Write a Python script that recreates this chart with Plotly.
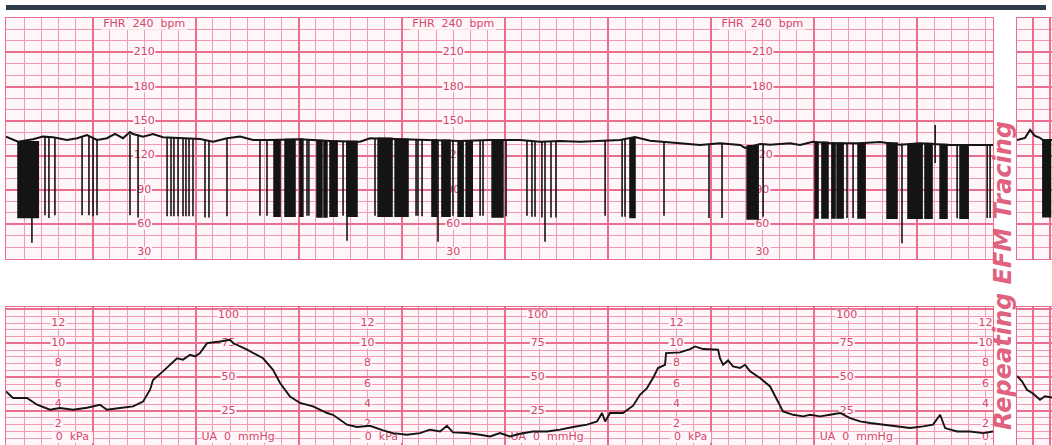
import plotly.graph_objects as go

# ---------------- data ----------------
# time axis in seconds from the left edge of the strip; grid: 10 s minor, 60 s major
fhr_t = [0.0, 4.1, 7.0, 15.7, 21.5, 27.4, 35.5, 41.4, 47.2, 53.0, 58.8, 63.5, 68.1, 72.2,
         74.0, 79.8, 85.6, 91.4, 101.3, 113.0, 120.6, 128.7, 136.3, 143.9, 153.8, 171.2,
         188.7, 206.2, 212.0, 229.5, 246.9, 264.4, 281.9, 299.4, 311.0, 322.7, 334.3, 346.0,
         357.6, 366.3, 375.1, 392.5, 404.2, 415.8, 427.5, 430.4, 439.2, 444.9, 456.6, 462.4,
         470.0, 479.9, 497.4, 509.0, 520.7, 532.3, 549.8, 561.4, 574.8]
fhr_bpm = [136.5, 133.6, 132.1, 134.2, 136.5, 135.9, 133.6, 135.1, 137.9, 133.6, 135.1, 138.8,
           135.1, 140.5, 138.8, 136.5, 138.8, 135.9, 135.1, 134.5, 132.1, 135.1, 136.5, 133.6,
           133.6, 134.2, 132.7, 132.1, 135.1, 134.2, 133.6, 132.7, 133.6, 133.6, 132.1, 132.7,
           132.1, 132.7, 133.6, 136.2, 133.0, 130.7, 129.2, 130.7, 129.2, 126.6, 130.1, 129.5,
           130.7, 129.2, 132.1, 130.7, 130.7, 131.8, 129.5, 130.7, 129.2, 129.2, 129.2]

# signal-loss drop-outs: start, end (s), lowest bpm, bpm where the drop leaves the trace
drop_start = [7.0, 15.1, 22.7, 25.0, 28.5, 44.3, 48.3, 50.7, 53.0, 72.2, 76.9, 93.8, 96.1,
              97.8, 100.2, 103.1, 104.8, 106.6, 108.9, 115.9, 118.2, 128.7, 147.9, 152.0,
              156.1, 162.5, 171.2, 175.3, 176.4, 181.1, 185.2, 188.7, 196.3, 198.6, 198.6,
              214.9, 216.7, 226.6, 238.8, 239.9, 242.3, 248.1, 251.6, 253.9, 260.3, 263.3,
              268.0, 276.1, 277.8, 283.1, 291.2, 303.4, 306.3, 308.1, 312.1, 313.9, 317.4,
              320.3, 348.9, 358.8, 360.5, 363.4, 383.2, 409.4, 417.0, 431.6, 440.9, 471.2,
              475.2, 481.0, 484.0, 489.8, 493.3, 496.2, 513.1, 521.8, 525.3, 535.2, 541.1,
              544.0, 553.9, 555.6, 571.4, 573.1]
drop_end = [18.8, 15.1, 22.7, 25.0, 28.5, 44.3, 48.3, 50.7, 53.0, 72.2, 76.9, 93.8, 96.1,
            97.8, 100.2, 103.1, 104.8, 106.6, 108.9, 115.9, 118.2, 128.7, 147.9, 152.0,
            159.6, 168.3, 172.9, 175.3, 176.4, 184.0, 186.9, 192.8, 196.3, 204.4, 198.6,
            214.9, 224.8, 234.1, 238.8, 239.9, 242.3, 251.0, 251.6, 258.6, 260.3, 266.2,
            271.5, 276.1, 277.8, 289.4, 291.2, 303.4, 306.3, 308.1, 312.1, 313.9, 317.4,
            320.3, 348.9, 358.8, 360.5, 366.3, 383.2, 409.4, 417.0, 438.0, 440.9, 472.9,
            478.7, 482.8, 487.5, 489.8, 493.3, 500.3, 518.9, 521.8, 533.5, 539.3, 541.1,
            548.0, 553.9, 560.3, 571.4, 573.1]
drop_low = [66.0, 44.0, 68.0, 65.5, 68.0, 68.0, 68.0, 67.0, 68.0, 68.0, 66.0, 67.0, 67.0,
            67.0, 67.0, 67.0, 67.0, 67.0, 67.0, 66.0, 66.0, 67.0, 67.5, 67.5,
            67.0, 67.0, 67.0, 67.5, 67.5, 66.5, 66.5, 67.0, 67.5, 67.0, 45.7,
            67.5, 67.0, 67.0, 67.5, 67.5, 67.0, 67.0, 44.8, 67.0, 67.5, 67.0,
            67.0, 67.5, 67.5, 66.5, 67.0, 67.5, 66.5, 66.5, 66.0, 44.8, 66.0,
            66.0, 67.5, 66.5, 66.5, 66.0, 67.5, 65.5, 65.5, 64.7, 66.5, 65.5,
            65.5, 65.5, 65.5, 65.5, 65.5, 65.5, 65.3, 43.4, 65.3, 65.3, 113.5,
            65.3, 65.3, 65.3, 65.5, 65.5]
drop_top = [132.0, 132.0, 136.5, 136.3, 136.0, 136.0, 137.0, 136.0, 134.0, 138.5, 138.5, 135.5,
            135.5, 135.5, 135.3, 135.2, 135.0, 134.9, 134.7, 134.5, 133.5, 135.0, 133.6, 133.6,
            133.8, 134.0, 134.2, 133.6, 133.5, 133.0, 132.8, 132.7, 132.5, 132.3, 132.3,
            134.5, 135.0, 134.2, 133.8, 133.8, 133.7, 133.6, 133.4, 133.2, 133.0, 132.8,
            132.8, 133.2, 133.4, 133.6, 133.6, 133.4, 133.0, 132.5, 132.1, 132.2, 132.5,
            132.7, 132.7, 133.6, 134.5, 135.5, 131.5, 129.5, 130.5, 128.5, 130.0, 131.2,
            131.5, 131.0, 130.7, 130.7, 130.7, 130.7, 131.0, 130.5, 129.8, 130.5, 146.7,
            129.5, 129.2, 129.2, 129.2, 129.2]

# uterine activity (mmHg)
ua_t = [0.0, 4.1, 12.2, 18.1, 25.6, 31.4, 39.0, 47.2, 54.7, 58.8, 66.4, 74.0, 79.8, 83.9,
        85.6, 91.4, 99.6, 103.1, 107.2, 110.1, 113.0, 117.1, 124.6, 130.5, 132.2, 140.4,
        149.7, 155.5, 159.6, 165.4, 171.2, 178.8, 187.0, 190.4, 198.6, 204.4, 212.0, 219.6,
        225.4, 233.5, 241.1, 246.9, 252.8, 256.8, 260.3, 268.5, 276.1, 281.9, 287.7, 293.5,
        299.4, 306.9, 315.1, 322.7, 330.2, 338.4, 344.2, 347.1, 348.9, 351.8, 359.3, 365.2,
        369.2, 373.3, 376.8, 379.7, 383.8, 384.4, 392.5, 398.4, 401.3, 405.9, 414.7, 415.8,
        417.6, 420.5, 423.4, 427.5, 430.4, 433.3, 439.1, 445.0, 449.0, 452.5, 458.4, 464.2,
        468.3, 474.1, 479.9, 485.7, 491.6, 497.4, 503.2, 510.8, 518.9, 526.5, 534.1, 539.9,
        544.0, 546.9, 553.9, 561.4, 569.0, 574.8]
ua_mmhg = [39.5, 34.7, 34.7, 29.7, 26.0, 27.3, 26.0, 27.5, 29.7, 26.0, 27.3, 28.5, 32.0, 40.8,
           48.0, 54.3, 64.0, 63.0, 66.6, 65.3, 67.8, 75.2, 76.4, 77.7, 75.2, 70.3,
           64.0, 55.5, 45.7, 35.8, 31.0, 28.5, 23.6, 22.3, 15.0, 13.3, 14.2, 10.8,
           8.8, 7.6, 8.8, 11.3, 10.0, 14.2, 9.3, 8.8, 7.6, 6.3, 8.8, 6.3,
           8.3, 10.0, 10.0, 11.3, 13.3, 15.0, 17.4, 23.6, 17.4, 23.6, 23.6, 29.0,
           37.0, 42.0, 49.4, 56.8, 59.2, 67.8, 68.3, 70.8, 72.7, 70.8, 70.3, 64.0,
           59.2, 62.4, 58.0, 56.8, 59.2, 54.3, 49.4, 43.2, 33.4, 24.8, 22.3, 21.1,
           22.3, 21.1, 22.3, 23.6, 19.9, 17.4, 16.2, 15.0, 13.7, 12.5, 13.7, 15.0,
           22.3, 12.5, 10.0, 10.0, 8.8, 10.0]

# start of the repeated strip (right edge)
rep_fhr_t = [0.0, 4.7, 7.6, 10.5, 13.4, 15.1, 20.4]
rep_fhr_bpm = [133.6, 135.4, 142.3, 137.1, 135.4, 133.6, 133.6]
rep_drop_start = [15.1]
rep_drop_end = [19.5]
rep_drop_low = [66.6]
rep_drop_top = [133.6]
rep_ua_t = [0.0, 2.9, 5.8, 9.3, 13.4, 16.3, 20.4]
rep_ua_mmhg = [51.0, 47.0, 40.8, 38.0, 33.4, 36.0, 35.0]

# printed scale labels
fhr_ticks = [240, 210, 180, 150, 120, 90, 60, 30]
kpa_ticks = [12, 10, 8, 6, 4, 2]
mmhg_ticks = [100, 75, 50, 25]
fhr_label_cols = [80.5, 260.5, 440.5]
kpa_label_cols = [30.5, 210.5, 390.5, 570.5]
mmhg_label_cols = [130.5, 310.5, 490.5]

# ---------------- styling ----------------
W, H = 1052, 445
BG = "#fef6f8"
GRID_MAJ = "#ea6f8f"
GRID_MIN = "#f29bb0"
LBL = "#d5456c"
TRACE = "#141414"
FONT = "DejaVu Sans"

X_MAIN = [6 / W, 993 / W]
X_REP = [1017 / W, 1.0]
Y_TOP = [1 - 258.7 / H, 1 - 18 / H]
Y_BOT = [0.0, 1 - 307.3 / H]
T_RANGE = [0, 574.8]
T_REP = [0, 20.4]
FHR_RANGE = [30, 240]
UA_RANGE = [0, 101.6]

px_per_s = (X_MAIN[1] - X_MAIN[0]) * W / (T_RANGE[1] - T_RANGE[0])
px_per_bpm = (Y_TOP[1] - Y_TOP[0]) * H / (FHR_RANGE[1] - FHR_RANGE[0])
px_per_mmhg = (Y_BOT[1] - Y_BOT[0]) * H / (UA_RANGE[1] - UA_RANGE[0])


def xaxis(domain, rng, anchor, major0, dmajor, minor0):
    return dict(domain=domain, range=rng, anchor=anchor, showticklabels=False, ticks="",
                zeroline=False, showgrid=True, gridcolor=GRID_MAJ, gridwidth=1.6,
                tickmode="linear", tick0=major0, dtick=dmajor,
                minor=dict(showgrid=True, gridcolor=GRID_MIN, gridwidth=1,
                           tick0=minor0, dtick=10),
                showline=True, mirror=True, linecolor=GRID_MAJ, linewidth=1.3,
                fixedrange=True)


def yaxis(domain, rng, anchor, dmajor, dminor):
    return dict(domain=domain, range=rng, anchor=anchor, showticklabels=False, ticks="",
                zeroline=False, showgrid=True, gridcolor=GRID_MAJ, gridwidth=1.6,
                tickmode="linear", tick0=rng[0], dtick=dmajor,
                minor=dict(showgrid=True, gridcolor=GRID_MIN, gridwidth=1,
                           tick0=rng[0], dtick=dminor),
                showline=True, mirror=True, linecolor=GRID_MAJ, linewidth=1.3,
                fixedrange=True)


def inset(v, rng, pad):
    return min(max(v, rng[0] + pad), rng[1] - pad)


def rect_path(cxs, cys, ws, hs):
    xs, ys = [], []
    for cx, cy, w, h in zip(cxs, cys, ws, hs):
        xs += [cx - w / 2, cx + w / 2, cx + w / 2, cx - w / 2, cx - w / 2, None]
        ys += [cy - h / 2, cy - h / 2, cy + h / 2, cy + h / 2, cy - h / 2, None]
    return xs, ys


def drop_path(starts, ends, lows, tops):
    xs, ys = [], []
    for s, e, lo, top in zip(starts, ends, lows, tops):
        xs += [s, s, e, e, s, None]
        ys += [top, lo, lo, top, top, None]
    return xs, ys


fig = go.Figure()


# ---- label sets (drawn under the traces, with paper-coloured boxes hiding the grid) ----
def add_labels(texts, xs, ys, xa, ya, y_px):
    widths = [(len(t) * 6.4 + 3) / px_per_s for t in texts]
    heights = [11 / y_px for _ in texts]
    bx, by = rect_path(xs, ys, widths, heights)
    fig.add_trace(go.Scatter(x=bx, y=by, mode="lines", fill="toself", fillcolor=BG,
                             line=dict(width=0, color=BG), hoverinfo="skip",
                             xaxis=xa, yaxis=ya))
    fig.add_trace(go.Scatter(x=xs, y=ys, mode="text", text=texts, textposition="middle center",
                             textfont=dict(family=FONT, size=11, color=LBL), hoverinfo="skip",
                             xaxis=xa, yaxis=ya))


# upper panel labels
txt, lx, ly = [], [], []
for c in fhr_label_cols:
    for v in fhr_ticks:
        txt.append("FHR  %d  bpm" % v if v == FHR_RANGE[1] else str(v))
        lx.append(c)
        ly.append(inset(v, FHR_RANGE, 5.5))
add_labels(txt, lx, ly, "x", "y", px_per_bpm)

# lower panel labels
txt, lx, ly = [], [], []
for i, c in enumerate(kpa_label_cols):
    for v in kpa_ticks:
        txt.append(str(v))
        lx.append(c)
        ly.append(v * 7.5)
    last = i == len(kpa_label_cols) - 1
    txt.append("0" if last else "0  kPa")
    lx.append(c if last else c + 14 / px_per_s)
    ly.append(inset(0, UA_RANGE, 5.8))
for c in mmhg_label_cols:
    for v in mmhg_ticks:
        txt.append(str(v))
        lx.append(c - 1.5 / px_per_s)
        ly.append(inset(v, UA_RANGE, 5.8))
    txt.append("UA  0  mmHg")
    lx.append(c + 8 / px_per_s)
    ly.append(inset(0, UA_RANGE, 5.8))
add_labels(txt, lx, ly, "x3", "y3", px_per_mmhg)

# ---- FHR trace ----
dx, dy = drop_path(drop_start, drop_end, drop_low, drop_top)
fig.add_trace(go.Scatter(x=dx, y=dy, mode="lines", fill="toself", fillcolor=TRACE,
                         line=dict(color=TRACE, width=1.6), hoverinfo="skip",
                         xaxis="x", yaxis="y"))
fig.add_trace(go.Scatter(x=fhr_t, y=fhr_bpm, mode="lines",
                         line=dict(color=TRACE, width=2), xaxis="x", yaxis="y"))

rx, ry = drop_path(rep_drop_start, rep_drop_end, rep_drop_low, rep_drop_top)
fig.add_trace(go.Scatter(x=rx, y=ry, mode="lines", fill="toself", fillcolor=TRACE,
                         line=dict(color=TRACE, width=1.6), hoverinfo="skip",
                         xaxis="x2", yaxis="y2"))
fig.add_trace(go.Scatter(x=rep_fhr_t, y=rep_fhr_bpm, mode="lines",
                         line=dict(color=TRACE, width=2), xaxis="x2", yaxis="y2"))

# ---- UA trace ----
fig.add_trace(go.Scatter(x=ua_t, y=ua_mmhg, mode="lines",
                         line=dict(color=TRACE, width=1.9), xaxis="x3", yaxis="y3"))
fig.add_trace(go.Scatter(x=rep_ua_t, y=rep_ua_mmhg, mode="lines",
                         line=dict(color=TRACE, width=1.9), xaxis="x4", yaxis="y4"))

fig.update_layout(
    width=W, height=H, margin=dict(l=0, r=0, t=0, b=0),
    paper_bgcolor="white", plot_bgcolor=BG, showlegend=False,
    xaxis=xaxis(X_MAIN, T_RANGE, "y", 50.5, 60, 0.5),
    yaxis=yaxis(Y_TOP, FHR_RANGE, "x", 30, 10),
    xaxis2=xaxis(X_REP, T_REP, "y2", 9.3, 10, 9.3),
    yaxis2=yaxis(Y_TOP, FHR_RANGE, "x2", 30, 10),
    xaxis3=xaxis(X_MAIN, T_RANGE, "y3", 50.5, 60, 0.5),
    yaxis3=yaxis(Y_BOT, UA_RANGE, "x3", 25, 5),
    xaxis4=xaxis(X_REP, T_REP, "y4", 9.3, 10, 9.3),
    yaxis4=yaxis(Y_BOT, UA_RANGE, "x4", 25, 5),
    shapes=[dict(type="rect", xref="paper", yref="paper", x0=6 / W, x1=1046 / W,
                 y0=1 - 10 / H, y1=1 - 5 / H, fillcolor="#2d3c48", line=dict(width=0))],
    annotations=[dict(xref="paper", yref="paper", x=1003 / W, y=1 - 276 / H,
                      xanchor="center", yanchor="middle",
                      text="Repeating EFM Tracing",
                      textangle=-90, showarrow=False,
                      font=dict(family=FONT, size=24, color="#e0627f",
                                weight="bold", style="italic"))],
)

fig.write_html("out.html")
